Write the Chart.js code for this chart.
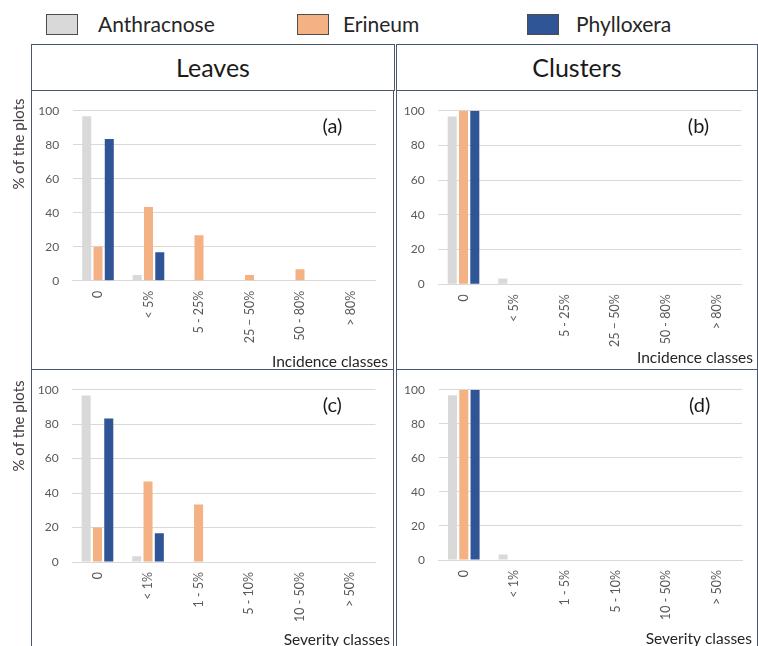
<!DOCTYPE html>
<html>
<head>
<meta charset="utf-8">
<script src="https://cdn.jsdelivr.net/npm/chart.js@4.4.1/dist/chart.umd.min.js"></script>
<style>
  html,body{margin:0;padding:0;background:#fff;}
  #wrap{position:relative;width:758px;height:646px;overflow:hidden;background:#fff;font-family:Lato,"Noto Sans",sans-serif;color:#262626;}
  .box{position:absolute;border:1px solid #4a586f;box-sizing:border-box;}
  .sw{position:absolute;top:14px;width:32px;height:21px;border:1px solid #4d4d4d;box-sizing:border-box;}
  .lg{position:absolute;top:11px;font-size:21px;line-height:26px;}
  .hd{position:absolute;top:44px;height:46px;line-height:46px;text-align:center;font-size:25px;color:#1a1a1a;}
  canvas{position:absolute;}
</style>
</head>
<body>
<div id="wrap">
  <div class="sw" style="left:46px;background:#d9d9d9"></div><div class="lg" style="left:98px">Anthracnose</div>
  <div class="sw" style="left:297px;background:#f4b183"></div><div class="lg" style="left:343px">Erineum</div>
  <div class="sw" style="left:527px;background:#2f5597"></div><div class="lg" style="left:576px">Phylloxera</div>

  <div class="box" style="left:31px;top:44px;width:364px;height:47px"></div>
  <div class="box" style="left:396px;top:44px;width:362px;height:47px"></div>
  <div class="hd" style="left:31px;width:364px">Leaves</div>
  <div class="hd" style="left:396px;width:362px">Clusters</div>

  <div class="box" style="left:31px;top:90px;width:363px;height:280px"></div>
  <div class="box" style="left:396px;top:90px;width:362px;height:280px"></div>
  <div class="box" style="left:31px;top:369px;width:363px;height:300px"></div>
  <div class="box" style="left:396px;top:369px;width:362px;height:300px"></div>

  <canvas id="chartA" width="394" height="279" style="left:0;top:90px"></canvas>
  <canvas id="chartB" width="362" height="279" style="left:396px;top:90px"></canvas>
  <canvas id="chartC" width="394" height="277" style="left:0;top:369px"></canvas>
  <canvas id="chartD" width="362" height="277" style="left:396px;top:369px"></canvas>
</div>
<script>
const incidenceClasses = ['0', '< 5%', '5 - 25%', '25 – 50%', '50 - 80%', '> 80%'];
const severityClasses = ['0', '< 1%', '1 - 5%', '5 - 10%', '10 - 50%', '> 50%'];
const yTicks = [0, 20, 40, 60, 80, 100];

// (a) leaves, incidence
const leavesIncAnthracnose = [96.7, 3.3, 0, 0, 0, 0];
const leavesIncErineum = [20, 43.3, 26.7, 3.3, 6.7, 0];
const leavesIncPhylloxera = [83.3, 16.7, 0, 0, 0, 0];
// (b) clusters, incidence
const clustersIncAnthracnose = [96.7, 3.3, 0, 0, 0, 0];
const clustersIncErineum = [100, 0, 0, 0, 0, 0];
const clustersIncPhylloxera = [100, 0, 0, 0, 0, 0];
// (c) leaves, severity
const leavesSevAnthracnose = [96.7, 3.3, 0, 0, 0, 0];
const leavesSevErineum = [20, 46.7, 33.3, 0, 0, 0];
const leavesSevPhylloxera = [83.3, 16.7, 0, 0, 0, 0];
// (d) clusters, severity
const clustersSevAnthracnose = [96.7, 3.3, 0, 0, 0, 0];
const clustersSevErineum = [100, 0, 0, 0, 0, 0];
const clustersSevPhylloxera = [100, 0, 0, 0, 0, 0];

Chart.defaults.font.family = 'Lato, "Noto Sans", sans-serif';

// axis titles and the (a)..(d) tags, drawn on top of each chart
const panelText = {
  id: 'panelText',
  afterDraw(chart, args, o){
    const ctx = chart.ctx;
    ctx.save();
    if (o.yTitle){
      ctx.translate(o.yTitle.x, o.yTitle.y);
      ctx.rotate(-Math.PI/2);
      ctx.font = '15px Lato';
      ctx.fillStyle = '#404040';
      ctx.textAlign = 'center';
      ctx.textBaseline = 'middle';
      ctx.fillText('% of the plots', 0, 0);
      ctx.setTransform(1,0,0,1,0,0);
    }
    ctx.font = '15.5px Lato';
    ctx.fillStyle = '#262626';
    ctx.textAlign = 'right';
    ctx.textBaseline = 'middle';
    ctx.fillText(o.xTitle.text, o.xTitle.x, o.xTitle.y);
    ctx.font = '20px Lato';
    ctx.fillStyle = '#1a1a1a';
    ctx.textAlign = 'center';
    ctx.fillText(o.tag.text, o.tag.x, o.tag.y);
    ctx.restore();
  }
};

function makePanel(id, labels, anth, erin, phyl, geo){
  const ds = (label, data, color) => ({ label, data, backgroundColor: color, borderWidth: 0,
    categoryPercentage: 0.67, barPercentage: 0.8 });
  return new Chart(document.getElementById(id), {
    type: 'bar',
    data: { labels, datasets: [
      ds('Anthracnose', anth, '#d9d9d9'),
      ds('Erineum', erin, '#f4b183'),
      ds('Phylloxera', phyl, '#2f5597')
    ]},
    options: {
      responsive: false,
      animation: false,
      layout: { padding: { top: geo.top, right: geo.right, left: 0, bottom: 0 } },
      plugins: { legend: { display: false }, tooltip: { enabled: false },
        panelText: { yTitle: geo.yTitle, xTitle: geo.xTitle, tag: geo.tag } },
      scales: {
        x: {
          grid: { display: false, drawTicks: false },
          border: { display: true, color: '#d9d9d9' },
          ticks: { color: '#595959', font: { size: 12.5 }, minRotation: 90, maxRotation: 90, padding: 10, autoSkip: false },
          afterFit: s => { s.height = geo.xh; }
        },
        y: {
          min: 0, max: 100,
          afterBuildTicks: s => { s.ticks = yTicks.map(v => ({ value: v })); },
          grid: { color: '#d9d9d9', drawTicks: false },
          border: { display: false },
          ticks: { color: '#595959', font: { size: 12 }, padding: 13.5 },
          afterFit: s => { s.width = geo.left; }
        }
      }
    },
    plugins: [panelText]
  });
}

makePanel('chartA', incidenceClasses, leavesIncAnthracnose, leavesIncErineum, leavesIncPhylloxera, {
  left: 72.75, right: 18.25, top: 15.7, xh: 88.3,
  yTitle: { x: 19.5, y: 54 },
  xTitle: { text: 'Incidence classes', x: 388, y: 271.5 },
  tag: { text: '(a)', x: 332.5, y: 37 }
});
makePanel('chartB', incidenceClasses, clustersIncAnthracnose, clustersIncErineum, clustersIncPhylloxera, {
  left: 42.2, right: 16.2, top: 15.3, xh: 84.7,
  xTitle: { text: 'Incidence classes', x: 357, y: 268 },
  tag: { text: '(b)', x: 302.5, y: 37 }
});
makePanel('chartC', severityClasses, leavesSevAnthracnose, leavesSevErineum, leavesSevPhylloxera, {
  left: 72.2, right: 18.5, top: 16, xh: 84,
  yTitle: { x: 19, y: 57 },
  xTitle: { text: 'Severity classes', x: 390, y: 271 },
  tag: { text: '(c)', x: 332.3, y: 37 }
});
makePanel('chartD', severityClasses, clustersSevAnthracnose, clustersSevErineum, clustersSevPhylloxera, {
  left: 42.5, right: 16, top: 16, xh: 86,
  xTitle: { text: 'Severity classes', x: 356, y: 270 },
  tag: { text: '(d)', x: 303.7, y: 37 }
});
</script>
</body>
</html>
